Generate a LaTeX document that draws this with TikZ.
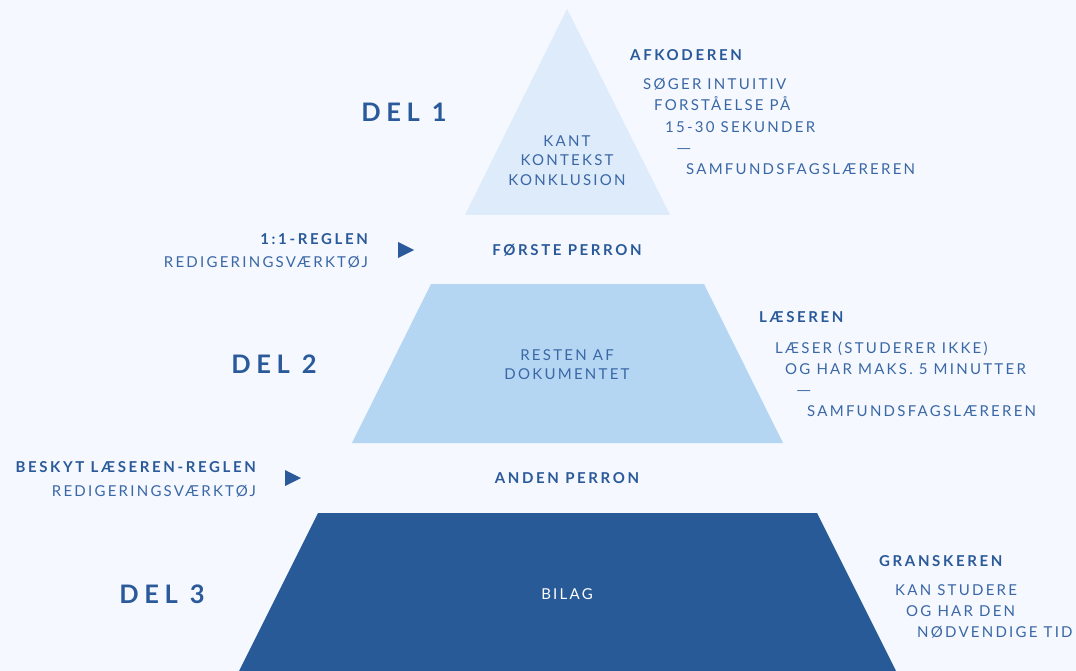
\documentclass[tikz,border=0pt]{standalone}
\usepackage{fontspec}
\setmainfont{Lato}
\newfontfamily\bodyf[LetterSpace=15]{Lato}
\newfontfamily\boldf[LetterSpace=17.5]{Lato Bold}
\newfontfamily\delf[LetterSpace=22]{Lato Bold}
\definecolor{bg}{HTML}{F5F8FE}
\definecolor{layerA}{HTML}{DEEBFA}
\definecolor{layerB}{HTML}{B5D6F2}
\definecolor{layerC}{HTML}{275A96}
\definecolor{ink}{HTML}{2A5A9A}
\definecolor{inkl}{HTML}{3A67A6}
\begin{document}
\begin{tikzpicture}[x=1pt,y=-1pt,
  body/.style={inner sep=0pt,anchor=base west,text=inkl,font=\bodyf\fontsize{15}{16}\selectfont},
  bodyr/.style={body,anchor=base east},
  bodyc/.style={body,anchor=base},
  head/.style={inner sep=0pt,anchor=base west,text=ink,font=\boldf\fontsize{15}{16}\selectfont},
  headr/.style={head,anchor=base east},
  headc/.style={head,anchor=base},
  del/.style={inner sep=0pt,anchor=base,text=ink,font=\delf\fontsize{25.5}{28}\selectfont},
  pointer/.style={fill=ink}]
\fill[bg] (0,0) rectangle (1076,671);
\useasboundingbox (0,0) rectangle (1076,671);
% layers
\fill[layerA] (567,9) -- (670,215) -- (465,215) -- cycle;
\fill[layerB] (431,284) -- (704,284) -- (783,443) -- (352,443) -- cycle;
\fill[layerC] (318,513) -- (817,513) -- (896,671) -- (239,671) -- cycle;
% DEL labels
\node[del] (d1) at (404,122) {DEL 1};
\node[del] (d2) at (274,373) {DEL 2};
\node[del] (d3) at (162,603) {DEL 3};
% layer texts
\node[bodyc] (k1) at (567,146.5) {KANT};
\node[bodyc] (k2) at (567,165.5) {KONTEKST};
\node[bodyc] (k3) at (567,185.5) {KONKLUSION};
\node[bodyc] (r1) at (567,360.5) {RESTEN AF};
\node[bodyc] (r2) at (567,379.5) {DOKUMENTET};
\node[bodyc,text=white] (bl) at (567,599.5) {BILAG};
% platforms
\node[headc] (p1) at (567,255.5) {FØRSTE PERRON};
\node[headc] (p2) at (567,483.5) {ANDEN PERRON};
% rules
\node[headr] (rule1) at (368,244.5) {1:1-REGLEN};
\node[bodyr] (tool1) at (368,267.5) {REDIGERINGSVÆRKTØJ};
\node[headr] (rule2) at (256,472.5) {BESKYT LÆSEREN-REGLEN};
\node[bodyr] (tool2) at (256,496.5) {REDIGERINGSVÆRKTØJ};
\coordinate (m1) at (398,250);
\coordinate (m2) at (285,478);
\fill[pointer] (m1) ++(0,-8) -- ++(16,8) -- ++(-16,8) -- cycle;
\fill[pointer] (m2) ++(0,-8) -- ++(16,8) -- ++(-16,8) -- cycle;
% right-hand descriptions
\node[head] (a0) at (630,60.5) {AFKODEREN};
\node[body] (a1) at (643,89.5) {SØGER INTUITIV};
\node[body] (a2) at (654,110.5) {FORSTÅELSE PÅ};
\node[body] (a3) at (665,132.5) {15-30 SEKUNDER};
\node[body] (a4) at (676,153.5) {\scalebox{1.3}[1]{—}};
\node[body] (a5) at (686,174.5) {SAMFUNDSFAGSLÆREREN};
\node[head] (b0) at (759,322.5) {LÆSEREN};
\node[body] (b1) at (775,353.5) {LÆSER (STUDERER IKKE)};
\node[body] (b2) at (785,374.5) {OG HAR MAKS. 5 MINUTTER};
\node[body] (b3) at (796,395.5) {\scalebox{1.3}[1]{—}};
\node[body] (b4) at (807,416.5) {SAMFUNDSFAGSLÆREREN};
\node[head] (c0) at (879,566.5) {GRANSKEREN};
\node[body] (c1) at (895,595.5) {KAN STUDERE};
\node[body] (c2) at (906,616.5) {OG HAR DEN};
\node[body] (c3) at (917,637.5) {NØDVENDIGE TID};
\end{tikzpicture}
\end{document}
